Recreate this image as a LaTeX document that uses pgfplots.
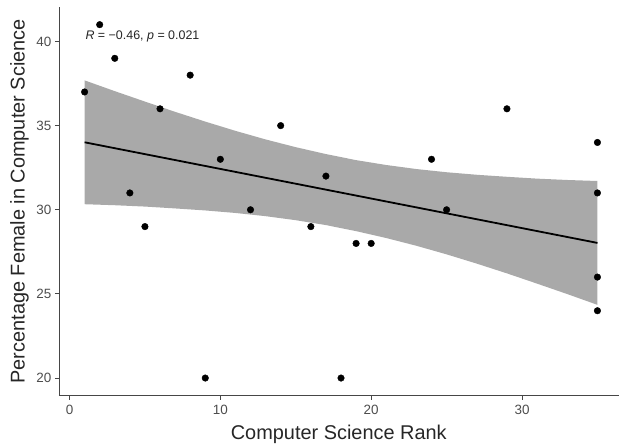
\documentclass[border=0pt]{standalone}
\usepackage{pgfplots}
\pgfplotsset{compat=1.18}
\usepackage{fontspec}
\setmainfont{Liberation Sans}
\definecolor{bandgray}{RGB}{169,169,169}
\definecolor{ticktext}{RGB}{77,77,77}
\definecolor{axisline}{RGB}{70,70,70}
\begin{document}
\begin{tikzpicture}
\begin{axis}[
  name=ax,
  scale only axis,
  width=560bp, height=389bp,
  xmin=-0.7, xmax=36.4,
  ymin=18.95, ymax=42.05,
  axis x line*=bottom, axis y line*=left,
  axis line style={-, axisline, line width=0.9bp},
  xtick={0,10,20,30}, ytick={20,25,30,35,40},
  tick align=outside,
  major tick length=4bp,
  tick style={axisline, line width=0.9bp},
  /pgf/number format/assume math mode=true,
  ticklabel style={font=\fontsize{13.5}{14}\selectfont, text=ticktext},
  xticklabel style={yshift=-1.5bp},
  xlabel={Computer Science Rank},
  ylabel={Percentage Female in Computer Science},
  label style={font=\fontsize{20}{22}\selectfont, text=black!85},
  xlabel style={yshift=-4bp},
  ylabel style={yshift=1bp},
  clip=false,
]
% confidence band
\addplot[fill=bandgray, draw=none] coordinates {
(1,37.69) (3,37.05) (5,36.43) (7,35.82) (9,35.24) (11,34.69) (13,34.18) (15,33.72) (17,33.31) (19,32.95) (21,32.66) (23,32.42) (25,32.23) (27,32.08) (29,31.96) (31,31.85) (33,31.77) (35,31.71)
(35,24.35) (33,24.99) (31,25.61) (29,26.22) (27,26.80) (25,27.35) (23,27.86) (21,28.32) (19,28.73) (17,29.09) (15,29.38) (13,29.62) (11,29.81) (9,29.96) (7,30.08) (5,30.19) (3,30.27) (1,30.33)
} -- cycle;
% regression line
\addplot[black, line width=1.8bp] coordinates {(1,34.01) (35,28.03)};
% points
\addplot[only marks, mark=*, mark size=3.3bp, mark options={fill=black, draw=black}] coordinates {
(1,37) (2,41) (3,39) (4,31) (5,29) (6,36) (8,38) (9,20) (10,33) (12,30) (14,35) (16,29) (17,32) (18,20) (19,28) (20,28) (24,33) (25,30) (29,36) (35,34) (35,31) (35,26) (35,24)
};
\node[anchor=west, inner sep=0pt, font=\fontsize{12.5}{14}\selectfont, text=black!85] at (axis cs:1.05,40.3) {\textit{R} = −0.46, \textit{p} = 0.021};
\end{axis}
\path[use as bounding box] (ax.south west) ++(-59bp,-48bp) rectangle ++(619bp,444bp);
\end{tikzpicture}
\end{document}
